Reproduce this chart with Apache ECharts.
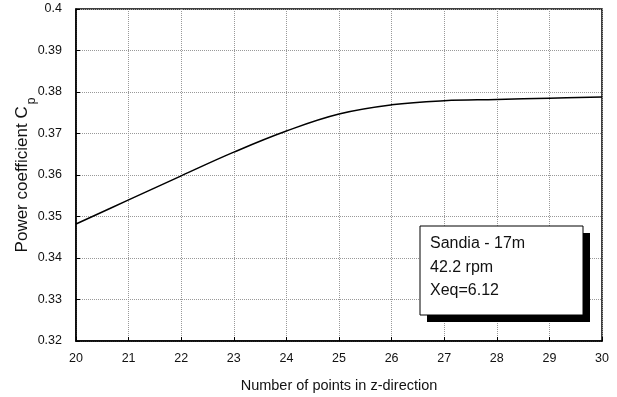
<!DOCTYPE html>
<html>
<head>
<meta charset="utf-8">
<script src="https://cdn.jsdelivr.net/npm/echarts@6/dist/echarts.min.js"></script>
<style>
  html, body { margin: 0; padding: 0; background: #fff; }
  #chart { width: 617px; height: 397px; }
</style>
</head>
<body>
<div id="chart"></div>
<script>
// Number of grid points along z and the resulting power coefficient
const pointsZ = [20, 21, 22, 23, 24, 25, 26, 27, 28, 29, 30];
const powerCoeff = [0.3482, 0.3540, 0.3598, 0.3655, 0.3706, 0.3747, 0.3769, 0.3779, 0.3782, 0.3785, 0.3788];
const infoLines = ['Sandia - 17m', '42.2 rpm', 'Xeq=6.12'];

const FONT = '"Liberation Sans", Arial, Helvetica, sans-serif';
const chart = echarts.init(document.getElementById('chart'));

chart.setOption({
  animation: false,
  backgroundColor: '#fff',
  grid: {
    left: 76, right: 15, top: 9, bottom: 56,
    outerBoundsMode: 'none',
    show: true, borderColor: '#000', borderWidth: 1.5
  },
  xAxis: {
    type: 'value', min: 20, max: 30, interval: 1,
    name: 'Number of points in z-direction',
    nameLocation: 'middle', nameGap: 37,
    nameTextStyle: { fontFamily: FONT, fontSize: 14.5, color: '#111' },
    axisLine: { lineStyle: { color: '#000', width: 1.5 } },
    axisTick: { inside: true, length: 4, lineStyle: { color: '#000' } },
    axisLabel: { fontFamily: FONT, fontSize: 12.5, color: '#111', margin: 11 },
    splitLine: { show: true, lineStyle: { type: 'dotted', color: '#999', width: 1 } }
  },
  yAxis: {
    type: 'value', min: 0.32, max: 0.4, interval: 0.01,
    name: '{n|Power coefficient C}{s|p}',
    nameLocation: 'middle', nameGap: 45, nameRotate: 90,
    nameMoveOverlap: false,
    nameTextStyle: {
      rich: {
        n: { fontFamily: FONT, fontSize: 17, color: '#111' },
        s: { fontFamily: FONT, fontSize: 12, color: '#111', verticalAlign: 'bottom', padding: [0, 0, -7, 2] }
      }
    },
    axisLine: { lineStyle: { color: '#000', width: 1.5 } },
    axisTick: { inside: true, length: 4, lineStyle: { color: '#000' } },
    axisLabel: {
      fontFamily: FONT, fontSize: 12.5, color: '#111', margin: 14,
      formatter: v => parseFloat(v.toFixed(2)).toString()
    },
    splitLine: { show: true, lineStyle: { type: 'dotted', color: '#999', width: 1 } }
  },
  series: [{
    type: 'line',
    data: pointsZ.map((x, i) => [x, powerCoeff[i]]),
    smooth: 0.4,
    showSymbol: false,
    lineStyle: { color: '#000', width: 1.5 }
  }],
  graphic: [
    // drop shadow behind the info box
    { type: 'rect', shape: { x: 427, y: 233, width: 163, height: 89 }, style: { fill: '#000' }, z: 10 },
    { type: 'rect', shape: { x: 420, y: 226, width: 163, height: 89 },
      style: { fill: '#fff', stroke: '#000', lineWidth: 1 }, z: 11 },
    { type: 'text', x: 430, y: 232, z: 12,
      style: { text: infoLines.join('\n'), font: '16px ' + FONT, lineHeight: 23.5, fill: '#111' } }
  ]
});
</script>
</body>
</html>
